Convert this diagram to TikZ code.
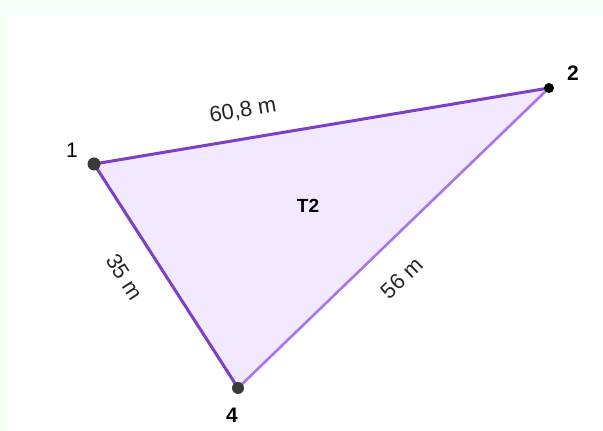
\documentclass[tikz,border=0pt]{standalone}
\usepackage{fontspec}
\setmainfont{Liberation Sans}
\usetikzlibrary{positioning}
\definecolor{edgedark}{HTML}{7E3FC8}
\definecolor{edgelight}{HTML}{A875EE}
\definecolor{areafill}{HTML}{F2E8FF}
\definecolor{pointgray}{HTML}{3A3A3A}
\definecolor{framegreen}{HTML}{F6FFF8}
\tikzset{
  % --- triangle parts ---
  side/.style={line width=1.5pt, edgedark, line cap=round},
  sidelight/.style={line width=1.3pt, edgelight, line cap=round},
  area/.style={fill=areafill},
  vertex/.style={circle, fill=pointgray, inner sep=0pt, minimum size=6.5pt},
  vertexsmall/.style={circle, fill=black, inner sep=0pt, minimum size=5pt},
  % --- texts ---
  ptlabel/.style={font=\fontsize{10.5}{12}\selectfont, text=black, inner sep=0pt},
  ptbold/.style={ptlabel, font=\fontsize{10.5}{12}\selectfont\bfseries},
  lenlabel/.style={font=\fontsize{11}{13}\selectfont, text=black!85, inner sep=0pt},
}
\begin{document}
\begin{tikzpicture}[x=0.5pt, y=-0.5pt]
  % page and faint frame
  \fill[framegreen] (0,0) rectangle (603,431);
  \fill[white] (7,14) rectangle (603,431);
  \useasboundingbox (0,0) rectangle (603,431);
  % corners
  \coordinate (v1) at (94,164);
  \coordinate (v2) at (549,88);
  \coordinate (v4) at (238,388);
  % area and sides
  \fill[area] (v1) -- (v2) -- (v4) -- cycle;
  \draw[sidelight] (v2) -- (v4);
  \draw[side] (v1) -- (v2);
  \draw[side] (v1) -- (v4);
  % points
  \node[vertex] (p1) at (v1) {};
  \node[vertexsmall] (p2) at (v2) {};
  \node[vertex, minimum size=6pt] (p4) at (v4) {};
  \node[ptlabel] (l1) at (72,150) {1};
  \node[ptbold] (l2) at (573,73) {2};
  \node[ptbold] (l4) at (232,415) {4};
  % lengths
  \node[lenlabel, rotate=9.5] (s12) at (243,111) {60,8 m};
  \node[lenlabel, rotate=-57] (s14) at (125,277) {35 m};
  \node[lenlabel, rotate=44] (s24) at (402,278) {56 m};
  \node[ptbold, font=\fontsize{9.5}{11}\selectfont\bfseries] (t2) at (308,206) {T2};
\end{tikzpicture}
\end{document}
